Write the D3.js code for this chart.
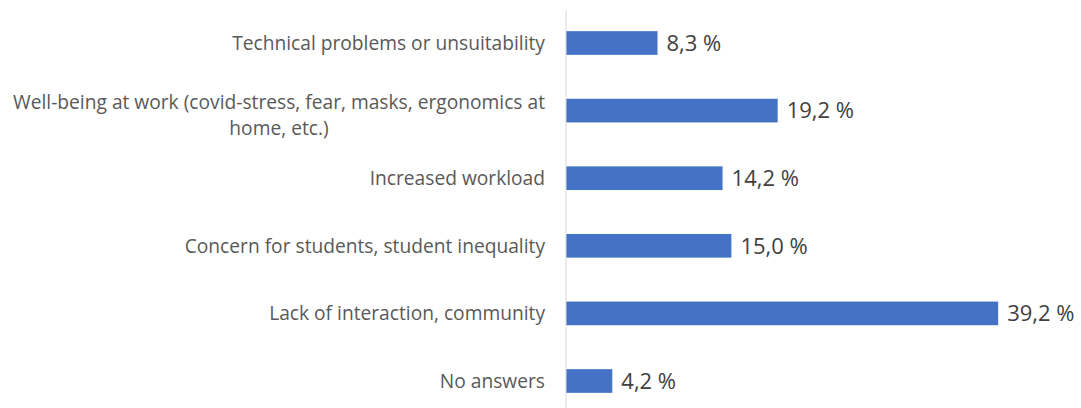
<!DOCTYPE html>
<html>
<head>
<meta charset="utf-8">
<script src="https://cdn.jsdelivr.net/npm/d3@7"></script>
<style>
  body { margin: 0; background: #fff; }
  svg { display: block; }
</style>
</head>
<body>
<script>
// data
var categories = [
  "Technical problems or unsuitability",
  "Well-being at work (covid-stress, fear, masks, ergonomics at home, etc.)",
  "Increased workload",
  "Concern for students, student inequality",
  "Lack of interaction, community",
  "No answers"
];
var values = [8.3, 19.2, 14.2, 15.0, 39.2, 4.2];
var valueLabels = ["8,3 %", "19,2 %", "14,2 %", "15,0 %", "39,2 %", "4,2 %"];

var width = 1081, height = 408;
var axisX = 566;

var svg = d3.select("body").append("svg")
  .attr("width", width)
  .attr("height", height);

var x = d3.scaleLinear()
  .domain([0, 40])
  .range([axisX, axisX + 441]);

var y = d3.scaleBand()
  .domain(categories)
  .range([9.2, 414.8])
  .paddingInner(0.65)
  .paddingOuter(0.325);

// bars
svg.append("g").selectAll("rect")
  .data(categories)
  .enter().append("rect")
    .attr("x", x(0))
    .attr("y", function(d) { return y(d); })
    .attr("width", function(d, i) { return x(values[i]) - x(0); })
    .attr("height", y.bandwidth())
    .attr("fill", "#4472C4");

// axis line (category axis)
var yAxis = d3.axisLeft(y).tickSize(0).tickPadding(21);
var ag = svg.append("g")
  .attr("transform", "translate(" + axisX + ",0)")
  .call(yAxis);

ag.select(".domain").remove();
ag.append("line")
  .attr("x1", 0).attr("x2", 0)
  .attr("y1", 10).attr("y2", height)
  .attr("stroke", "#d9d9d9")
  .attr("stroke-width", 1);

ag.selectAll(".tick text")
  .attr("fill", "#595959")
  .style("font-family", "'Open Sans', sans-serif")
  .style("font-size", "19.2px")
  .each(function(d) { wrap(d3.select(this), 545); });

function wrap(text, maxW) {
  var words = text.text().split(/\s+/);
  var lines = [], line = [];
  text.text(null);
  var probe = text.append("tspan");
  words.forEach(function(w) {
    line.push(w);
    probe.text(line.join(" "));
    if (probe.node().getComputedTextLength() > maxW && line.length > 1) {
      line.pop();
      lines.push(line.join(" "));
      line = [w];
    }
  });
  lines.push(line.join(" "));
  probe.remove();
  text.attr("dy", null);
  if (lines.length == 1) {
    text.append("tspan").attr("x", -21).attr("y", 7).text(lines[0]);
    return;
  }
  // multi-line: centred block, right edge at the padding
  var widths = lines.map(function(l) {
    var t = text.append("tspan").text(l);
    var w = t.node().getComputedTextLength();
    t.remove();
    return w;
  });
  var maxLine = d3.max(widths);
  text.attr("text-anchor", "middle");
  lines.forEach(function(l, i) {
    text.append("tspan")
      .attr("x", -21 - maxLine / 2)
      .attr("y", -2 + i * 26)
      .text(l);
  });
}

// value labels
svg.append("g").selectAll("text")
  .data(categories)
  .enter().append("text")
    .attr("x", function(d, i) { return x(values[i]) + 9; })
    .attr("y", function(d) { return y(d) + y.bandwidth() / 2; })
    .attr("dy", "0.35em")
    .attr("fill", "#404040")
    .style("font-family", "'Open Sans', sans-serif")
    .style("font-size", "22px")
    .text(function(d, i) { return valueLabels[i]; });
</script>
</body>
</html>
